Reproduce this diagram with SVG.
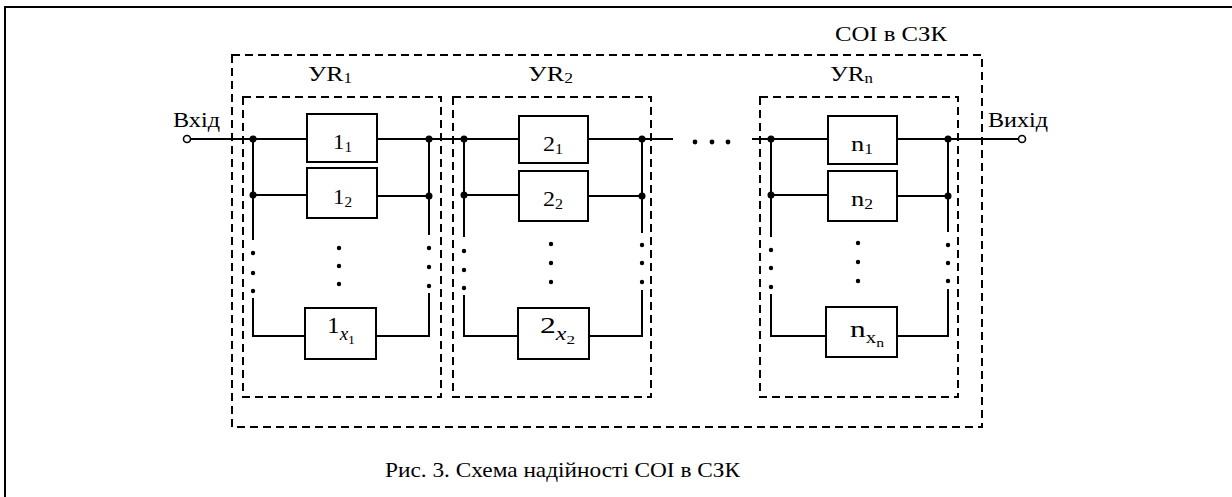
<svg xmlns="http://www.w3.org/2000/svg" width="1232" height="497" viewBox="0 0 1232 497">
<style>
text{font-family:"Liberation Serif","Times New Roman",serif;fill:#000}
.w{fill:none;stroke:#000;stroke-width:2}
.d{fill:none;stroke:#000;stroke-width:2;stroke-dasharray:8 5}
.b{fill:#fff;stroke:#000;stroke-width:2}
.j{fill:#000}
</style>
<rect width="1232" height="497" fill="#fff"/>
<path class="w" d="M5,497 V7 H1232"/>
<g id="system">
<rect class="d" x="232" y="55" width="750" height="372"/>
<text x="835" y="41" font-size="21" textLength="112" lengthAdjust="spacingAndGlyphs">СОІ в СЗК</text>
</g>
<g id="yr1">
<rect class="d" x="243" y="97" width="198" height="300"/>
<text x="308" y="81" font-size="21" textLength="44" lengthAdjust="spacingAndGlyphs">УR<tspan font-size="14" dy="2">1</tspan></text>
</g>
<g id="yr2">
<rect class="d" x="453" y="97" width="198" height="300"/>
<text x="528" y="81" font-size="21" textLength="45" lengthAdjust="spacingAndGlyphs">УR<tspan font-size="14" dy="2">2</tspan></text>
</g>
<g id="yrn">
<rect class="d" x="760" y="97" width="198" height="300"/>
<text x="830" y="81" font-size="21" textLength="43" lengthAdjust="spacingAndGlyphs">УR<tspan font-size="14" dy="2">n</tspan></text>
</g>
<g id="connectors">
<path class="w" d="M187,139 H307 M377,139 H519 M588,139 H673 M752,139 H828 M897,139 H1022"/>
<path class="w" d="M253,139 V240 M253,298 V336 H305 M376,336 H429 V293 M429,235 V139 M253,195 H307 M377,196 H429"/>
<path class="w" d="M464,139 V237 M464,295 V336 H518 M589,336 H642 V290 M642,233 V139 M464,195 H519 M588,196 H642"/>
<path class="w" d="M771,139 V237 M771,294 V336 H826 M897,336 H948 V289 M948,232 V139 M771,195 H828 M897,196 H948"/>
<g class="j">
<circle cx="253" cy="139" r="3.5"/><circle cx="253" cy="195" r="3.5"/><circle cx="429" cy="139" r="3.5"/><circle cx="429" cy="196" r="3.5"/>
<circle cx="464" cy="139" r="3.5"/><circle cx="464" cy="195" r="3.5"/><circle cx="642" cy="139" r="3.5"/><circle cx="642" cy="196" r="3.5"/>
<circle cx="771" cy="139" r="3.5"/><circle cx="771" cy="195" r="3.5"/><circle cx="948" cy="139" r="3.5"/><circle cx="948" cy="196" r="3.5"/>
<circle cx="253" cy="253" r="2.2"/><circle cx="253" cy="273" r="2.2"/><circle cx="253" cy="291" r="2.2"/>
<circle cx="339" cy="248" r="2.2"/><circle cx="339" cy="266" r="2.2"/><circle cx="339" cy="284" r="2.2"/>
<circle cx="429" cy="248" r="2.2"/><circle cx="429" cy="267" r="2.2"/><circle cx="429" cy="286" r="2.2"/>
<circle cx="464" cy="251" r="2.2"/><circle cx="464" cy="270" r="2.2"/><circle cx="464" cy="288" r="2.2"/>
<circle cx="551" cy="244" r="2.2"/><circle cx="551" cy="263" r="2.2"/><circle cx="551" cy="282" r="2.2"/>
<circle cx="642" cy="245" r="2.2"/><circle cx="642" cy="263" r="2.2"/><circle cx="642" cy="282" r="2.2"/>
<circle cx="771" cy="250" r="2.2"/><circle cx="771" cy="268" r="2.2"/><circle cx="771" cy="287" r="2.2"/>
<circle cx="858" cy="243" r="2.2"/><circle cx="858" cy="262" r="2.2"/><circle cx="858" cy="281" r="2.2"/>
<circle cx="948" cy="245" r="2.2"/><circle cx="948" cy="263" r="2.2"/><circle cx="948" cy="281" r="2.2"/>
<circle cx="695" cy="142" r="2.4"/><circle cx="712" cy="142" r="2.4"/><circle cx="728" cy="142" r="2.4"/>
</g>
</g>
<g id="in">
<circle cx="187" cy="139" r="3.5" fill="#fff" stroke="#000" stroke-width="1.6"/>
<text x="173" y="127" font-size="21" textLength="47" lengthAdjust="spacingAndGlyphs">Вхід</text>
</g>
<g id="out">
<circle cx="1022" cy="139" r="3.5" fill="#fff" stroke="#000" stroke-width="1.6"/>
<text x="988" y="127" font-size="21" textLength="60" lengthAdjust="spacingAndGlyphs">Вихід</text>
</g>
<g id="e11"><rect class="b" x="307" y="114" width="70" height="48"/><text x="333" y="149" font-size="21" textLength="19" lengthAdjust="spacingAndGlyphs">1<tspan font-size="14" dy="3">1</tspan></text></g>
<g id="e12"><rect class="b" x="307" y="168" width="70" height="50"/><text x="333" y="204" font-size="21" textLength="19" lengthAdjust="spacingAndGlyphs">1<tspan font-size="14" dy="3">2</tspan></text></g>
<g id="e1x"><rect class="b" x="305" y="308" width="71" height="51"/><text x="327" y="333" font-size="24" textLength="28" lengthAdjust="spacingAndGlyphs">1<tspan font-size="18" font-style="italic" dy="7">x</tspan><tspan font-size="13" dy="4">1</tspan></text></g>
<g id="e21"><rect class="b" x="519" y="116" width="69" height="47"/><text x="543" y="151" font-size="21" textLength="20" lengthAdjust="spacingAndGlyphs">2<tspan font-size="14" dy="3">1</tspan></text></g>
<g id="e22"><rect class="b" x="519" y="171" width="69" height="50"/><text x="543" y="206" font-size="21" textLength="20" lengthAdjust="spacingAndGlyphs">2<tspan font-size="14" dy="3">2</tspan></text></g>
<g id="e2x"><rect class="b" x="518" y="308" width="71" height="51"/><text x="540" y="333" font-size="24" textLength="35" lengthAdjust="spacingAndGlyphs">2<tspan font-size="18" font-style="italic" dy="7">x</tspan><tspan font-size="13" dy="4">2</tspan></text></g>
<g id="en1"><rect class="b" x="828" y="116" width="69" height="48"/><text x="851" y="151" font-size="21" textLength="22" lengthAdjust="spacingAndGlyphs">n<tspan font-size="14" dy="3">1</tspan></text></g>
<g id="en2"><rect class="b" x="828" y="171" width="69" height="50"/><text x="851" y="206" font-size="21" textLength="22" lengthAdjust="spacingAndGlyphs">n<tspan font-size="14" dy="3">2</tspan></text></g>
<g id="enx"><rect class="b" x="826" y="307" width="71" height="50"/><text x="850" y="337" font-size="24" textLength="34" lengthAdjust="spacingAndGlyphs">n<tspan font-size="16" dy="6">x</tspan><tspan font-size="12" dy="4">n</tspan></text></g>
<text x="385" y="477" font-size="21" textLength="355" lengthAdjust="spacingAndGlyphs">Рис. 3. Схема надійності СОІ в СЗК</text>
</svg>
